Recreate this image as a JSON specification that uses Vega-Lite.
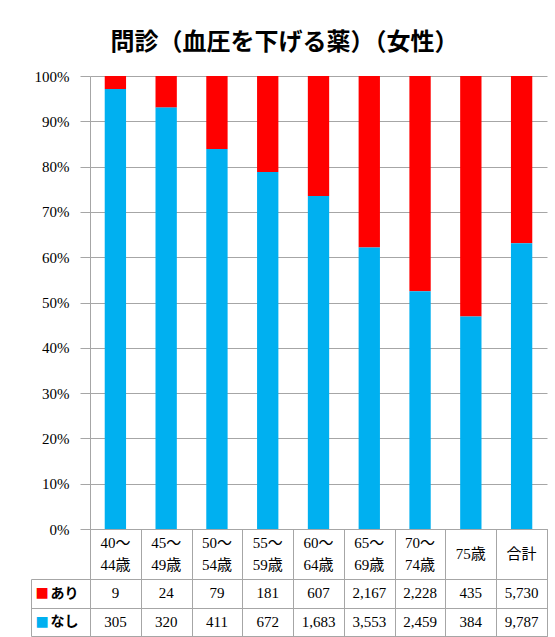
{
  "$schema": "https://vega.github.io/schema/vega-lite/v6.json",
  "padding": {"left": 30, "top": 31, "right": 5, "bottom": 0},
  "background": "white",
  "bounds": "flush",
  "spacing": 0,
  "datasets": {
    "d": [
      {"age": "40～44歳", "series": "あり", "value": 9},
      {"age": "40～44歳", "series": "なし", "value": 305},
      {"age": "45～49歳", "series": "あり", "value": 24},
      {"age": "45～49歳", "series": "なし", "value": 320},
      {"age": "50～54歳", "series": "あり", "value": 79},
      {"age": "50～54歳", "series": "なし", "value": 411},
      {"age": "55～59歳", "series": "あり", "value": 181},
      {"age": "55～59歳", "series": "なし", "value": 672},
      {"age": "60～64歳", "series": "あり", "value": 607},
      {"age": "60～64歳", "series": "なし", "value": 1683},
      {"age": "65～69歳", "series": "あり", "value": 2167},
      {"age": "65～69歳", "series": "なし", "value": 3553},
      {"age": "70～74歳", "series": "あり", "value": 2228},
      {"age": "70～74歳", "series": "なし", "value": 2459},
      {"age": "75歳", "series": "あり", "value": 435},
      {"age": "75歳", "series": "なし", "value": 384},
      {"age": "合計", "series": "あり", "value": 5730},
      {"age": "合計", "series": "なし", "value": 9787}
    ]
  },
  "vconcat": [
    {
      "data": {"name": "d"},
      "width": 457,
      "height": 453,
      "view": {"stroke": null},
      "title": {
        "text": "問診（血圧を下げる薬）（女性）",
        "font": "Noto Sans CJK JP",
        "fontSize": 24,
        "fontWeight": "bold",
        "color": "black",
        "anchor": "middle",
        "dx": -34,
        "offset": 14
      },
      "mark": {"type": "bar", "width": {"band": 0.42}},
      "encoding": {
        "x": {
          "field": "age",
          "type": "nominal",
          "sort": null,
          "scale": {"type": "band", "paddingInner": 0, "paddingOuter": 0},
          "axis": null
        },
        "y": {
          "field": "value",
          "type": "quantitative",
          "stack": "normalize",
          "axis": {
            "title": null,
            "values": [0, 0.1, 0.2, 0.3, 0.4, 0.5, 0.6, 0.7, 0.8, 0.9, 1],
            "format": "%",
            "grid": true,
            "gridColor": "#a6a6a6",
            "domain": true,
            "domainColor": "#a6a6a6",
            "tickColor": "#a6a6a6",
            "tickSize": 10,
            "labelPadding": 11,
            "labelFont": "Liberation Serif",
            "labelFontSize": 15,
            "labelColor": "black"
          }
        },
        "color": {
          "field": "series",
          "type": "nominal",
          "scale": {"domain": ["あり", "なし"], "range": ["#FF0000", "#00B0F0"]},
          "legend": null
        },
        "order": {"field": "series", "sort": "descending"}
      }
    },
    {
      "data": {"name": "d"},
      "transform": [
        {"filter": "datum.series == 'あり'"},
        {"calculate": "length(datum.age) > 3 ? substring(datum.age, 0, 3) : ''", "as": "l1"},
        {"calculate": "length(datum.age) > 3 ? substring(datum.age, 3) : ''", "as": "l2"},
        {"calculate": "length(datum.age) > 3 ? '' : datum.age", "as": "l0"}
      ],
      "width": 457,
      "height": 50,
      "view": {"stroke": "#a6a6a6"},
      "encoding": {
        "x": {
          "field": "age",
          "type": "nominal",
          "sort": null,
          "scale": {"type": "band", "paddingInner": 0, "paddingOuter": 0},
          "axis": {
            "title": null,
            "labels": false,
            "ticks": false,
            "domain": false,
            "grid": true,
            "tickBand": "extent",
            "gridColor": "#a6a6a6"
          }
        }
      },
      "layer": [
        {
          "mark": {"type": "text", "font": "Liberation Serif, Noto Sans CJK JP", "fontSize": 15, "color": "black", "baseline": "middle", "dy": -11},
          "encoding": {"text": {"field": "l1", "type": "nominal"}}
        },
        {
          "mark": {"type": "text", "font": "Liberation Serif, Noto Sans CJK JP", "fontSize": 15, "color": "black", "baseline": "middle", "dy": 11},
          "encoding": {"text": {"field": "l2", "type": "nominal"}}
        },
        {
          "mark": {"type": "text", "font": "Liberation Serif, Noto Sans CJK JP", "fontSize": 15, "color": "black", "baseline": "middle", "dy": 0},
          "encoding": {"text": {"field": "l0", "type": "nominal"}}
        }
      ]
    },
    {
      "data": {"name": "d"},
      "width": 457,
      "height": 57,
      "view": {"stroke": "#a6a6a6"},
      "encoding": {
        "x": {
          "field": "age",
          "type": "nominal",
          "sort": null,
          "scale": {"type": "band", "paddingInner": 0, "paddingOuter": 0},
          "axis": {
            "title": null,
            "labels": false,
            "ticks": false,
            "domain": false,
            "grid": true,
            "tickBand": "extent",
            "gridColor": "#a6a6a6"
          }
        }
      },
      "layer": [
        {
          "mark": {"type": "text", "font": "Liberation Serif", "fontSize": 15, "color": "black"},
          "encoding": {
            "y": {
              "field": "series",
              "type": "nominal",
              "sort": ["あり", "なし"],
              "scale": {"type": "band", "paddingInner": 0, "paddingOuter": 0},
              "axis": {
                "title": null,
                "orient": "left",
                "domain": false,
                "grid": true,
                "gridColor": "#a6a6a6",
                "tickBand": "extent",
                "ticks": true,
                "tickSize": 59,
                "tickColor": "#a6a6a6",
                "labelPadding": -47,
                "labelFont": "Noto Sans CJK JP",
                "labelFontSize": 14,
                "labelFontWeight": "bold",
                "labelColor": "black"
              }
            },
            "text": {"field": "value", "type": "quantitative", "format": ","}
          }
        },
        {
          "mark": {"type": "text", "opacity": 0},
          "encoding": {
            "y": {
              "field": "series",
              "type": "nominal",
              "sort": ["あり", "なし"],
              "axis": {
                "title": null,
                "orient": "left",
                "offset": 59,
                "domain": true,
                "domainColor": "#a6a6a6",
                "ticks": false,
                "tickSize": 0,
                "grid": false,
                "labelExpr": "'■'",
                "labelAlign": "left",
                "labelPadding": -4,
                "labelFont": "DejaVu Sans",
                "labelFontSize": 14,
                "labelColor": {"expr": "datum.value == 'あり' ? '#FF0000' : '#00B0F0'"}
              }
            },
            "text": {"field": "value", "type": "quantitative"}
          }
        }
      ],
      "resolve": {"axis": {"y": "independent"}}
    }
  ]
}
